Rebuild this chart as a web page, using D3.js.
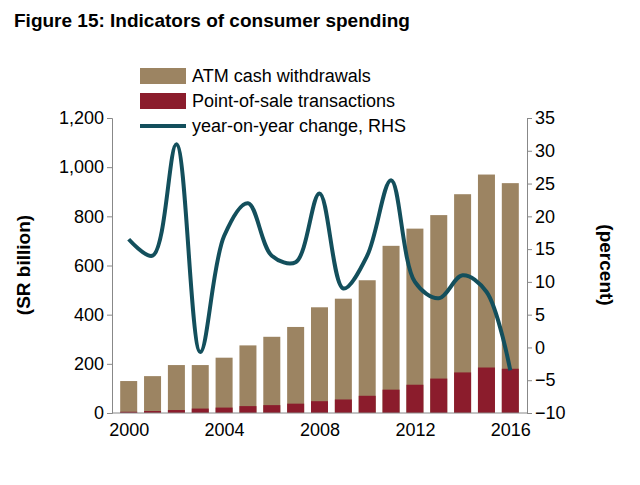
<!DOCTYPE html>
<html lang="en">
<head>
  <meta charset="UTF-8">
  <title>Figure 15</title>
  <style>
    body, html { margin: 0; background: #fff; }
    text { font-family: Arial, "Liberation Sans", sans-serif; }
  </style>
</head>
<body>
  <svg id="svg" width="640" height="485"></svg>
  <script src="https://d3js.org/d3.v7.min.js"></script>
  <script>
    const years = [2000,2001,2002,2003,2004,2005,2006,2007,2008,2009,2010,2011,2012,2013,2014,2015,2016]
    const atm = [130,150,195,195,225,275,310,350,430,465,540,680,750,805,890,970,935]
    const pos = [5,8,12,18,22,28,32,38,48,55,70,95,115,140,165,185,180]
    const yoy = [16.5,14,31,-0.7,17,22,14,13,23.5,9,14,25.5,10,7.5,11,8.5,-3.5]
    const leftTicks = [0,200,400,600,800,1000,1200]
    const rightTicks = [-10,-5,0,5,10,15,20,25,30,35]
    const xTicks = [2000,2004,2008,2012,2016]

    const svg = d3.select('#svg')
    const plotLeft = 112, plotRight = 527, plotTop = 118, plotBottom = 413

    const x = d3.scaleLinear().domain([1999.3, 2016.7]).range([plotLeft, plotRight])
    const yL = d3.scaleLinear().domain([0, 1200]).range([plotBottom, plotTop])
    const yR = d3.scaleLinear().domain([-10, 35]).range([plotBottom, plotTop])
    const bw = 17

    svg.append('text').attr('x', 14).attr('y', 27)
      .style('font-size', '19px').style('font-weight', 'bold')
      .text('Figure 15: Indicators of consumer spending')

    svg.selectAll('rect.atm').data(years).enter().append('rect')
      .attr('x', (d) => x(d) - bw / 2).attr('width', bw)
      .attr('y', (d, i) => yL(atm[i])).attr('height', (d, i) => yL(0) - yL(atm[i]))
      .attr('fill', '#9c8462')
    svg.selectAll('rect.pos').data(years).enter().append('rect')
      .attr('x', (d) => x(d) - bw / 2).attr('width', bw)
      .attr('y', (d, i) => yL(pos[i])).attr('height', (d, i) => yL(0) - yL(pos[i]))
      .attr('fill', '#8b1c2c')

    const line = d3.line().x((d, i) => x(years[i])).y(d => yR(d)).curve(d3.curveCatmullRom.alpha(0.5))
    svg.append('path').datum(yoy).attr('d', line)
      .attr('fill', 'none').attr('stroke', '#134f5c').attr('stroke-width', 4)

    const axL = svg.append('g').attr('transform', `translate(${plotLeft},0)`)
      .call(d3.axisLeft(yL).tickValues(leftTicks).tickFormat(d3.format(',')).tickSize(5))
    const axR = svg.append('g').attr('transform', `translate(${plotRight},0)`)
      .call(d3.axisRight(yR).tickValues(rightTicks).tickSize(5))
    const axB = svg.append('g').attr('transform', `translate(0,${plotBottom})`)
      .call(d3.axisBottom(x).tickValues(xTicks).tickFormat(d3.format('d')).tickSize(0))
    ;[axL, axR, axB].forEach(a => {
      a.selectAll('path,line').attr('stroke', '#888')
      a.selectAll('text').style('font-size', '18px').attr('fill', '#000')
    })
    axB.select('.domain').attr('d', `M${plotLeft},0H${plotRight}`)
    axB.selectAll('text').attr('dy', '1.1em')

    svg.append('text').attr('transform', 'translate(30,265) rotate(-90)')
      .attr('text-anchor', 'middle').style('font-size', '19px').style('font-weight', 'bold')
      .text('(SR billion)')
    svg.append('text').attr('transform', 'translate(600,265) rotate(90)')
      .attr('text-anchor', 'middle').style('font-size', '19px').style('font-weight', 'bold')
      .text('(percent)')

    const legend = [
      { label: 'ATM cash withdrawals', color: '#9c8462', type: 'rect' },
      { label: 'Point-of-sale transactions', color: '#8b1c2c', type: 'rect' },
      { label: 'year-on-year change, RHS', color: '#134f5c', type: 'line' }
    ]
    const lg = svg.selectAll('g.lg').data(legend).enter().append('g')
      .attr('transform', (d, i) => `translate(140,${76 + i * 25})`)
    lg.filter(d => d.type === 'rect').append('rect')
      .attr('x', 0).attr('y', -8).attr('width', 46).attr('height', 16).attr('fill', d => d.color)
    lg.filter(d => d.type === 'line').append('line')
      .attr('x1', 0).attr('x2', 46).attr('stroke', d => d.color).attr('stroke-width', 4)
    lg.append('text').attr('x', 52).attr('y', 6).style('font-size', '18px').text(d => d.label)
  </script>
</body>
</html>
